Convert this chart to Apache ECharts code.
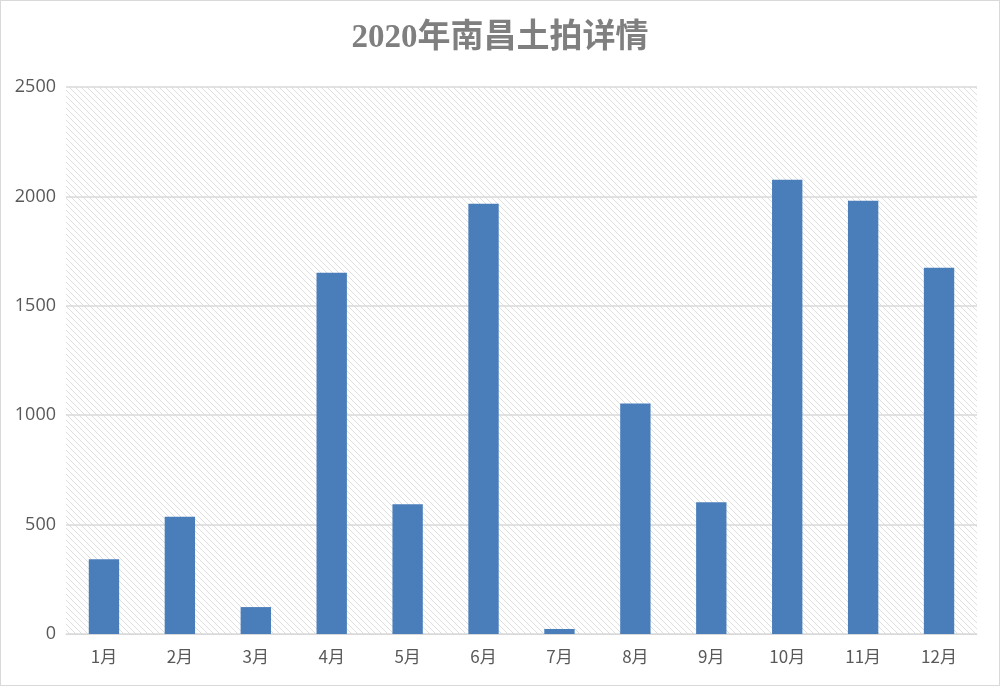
<!DOCTYPE html>
<html><head><meta charset="utf-8">
<script src="https://cdn.jsdelivr.net/npm/echarts@6/dist/echarts.min.js"></script>
<style>html,body{margin:0;padding:0;background:#fff}#c{width:1000px;height:686px;box-sizing:border-box;border:1px solid #d9d9d9}</style>
</head><body><div id="c"></div>
<script>
var categories = ['1月','2月','3月','4月','5月','6月','7月','8月','9月','10月','11月','12月'];
var values = [342, 536, 123, 1651, 593, 1966, 23, 1054, 602, 2076, 1980, 1674];
var yTicks = [0, 500, 1000, 1500, 2000, 2500];

var tile = document.createElement('canvas');
tile.width = 6; tile.height = 6;
var g = tile.getContext('2d');
g.strokeStyle = '#dedede'; g.lineWidth = 1;
g.beginPath();
g.moveTo(-1,-1); g.lineTo(7,7);
g.moveTo(-4,2); g.lineTo(4,10);
g.moveTo(2,-4); g.lineTo(10,4);
g.stroke();

var chart = echarts.init(document.getElementById('c'));
chart.setOption({
  animation: false,
  title: { text: '2020年南昌土拍详情', left: 'center', top: 16,
    textStyle: { fontSize: 33, fontWeight: 'bold', color: '#7f7f7f', fontFamily: 'Liberation Serif, Noto Sans CJK SC' } },
  grid: { left: 65, right: 22, top: 86, bottom: 51, show: true, borderWidth: 0,
    backgroundColor: { image: tile, repeat: 'repeat' } },
  xAxis: { type: 'category', data: categories,
    axisLine: { lineStyle: { color: '#d9d9d9', width: 1 } }, axisTick: { show: false },
    axisLabel: { color: '#595959', fontSize: 17, margin: 14, fontFamily: 'Noto Sans CJK SC' } },
  yAxis: { type: 'value', min: yTicks[0], max: yTicks[yTicks.length-1], interval: 500,
    axisLine: { show: false }, axisTick: { show: false },
    splitLine: { lineStyle: { color: '#d9d9d9', width: 1.5 } },
    axisLabel: { color: '#595959', fontSize: 18, margin: 10, fontFamily: 'Open Sans',
      formatter: function (v) { return String(v); } } },
  series: [{ type: 'bar', data: values, barWidth: '40%', itemStyle: { color: '#4a7ebb' } }]
});
</script></body></html>
